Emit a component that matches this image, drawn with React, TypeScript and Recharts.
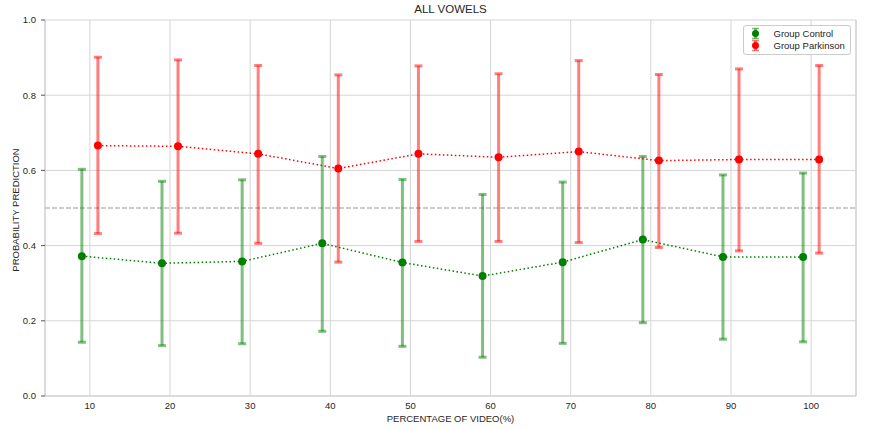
import {
  ScatterChart,
  Scatter,
  XAxis,
  YAxis,
  CartesianGrid,
  ErrorBar,
  ReferenceLine,
} from 'recharts'

const FONT = '"Liberation Sans", Arial, sans-serif'
const TEXT = '#262626'

// percentage of video (%), points are nudged -1 / +1 around each tick
const percentages = [10, 20, 30, 40, 50, 60, 70, 80, 90, 100]

const controlMean = [0.372, 0.353, 0.358, 0.406, 0.355, 0.319, 0.356, 0.416, 0.37, 0.37]
const controlUpper = [0.603, 0.571, 0.575, 0.637, 0.576, 0.536, 0.569, 0.637, 0.588, 0.593]
const controlLower = [0.143, 0.134, 0.139, 0.172, 0.132, 0.103, 0.14, 0.195, 0.151, 0.144]

const parkinsonMean = [0.666, 0.664, 0.644, 0.605, 0.644, 0.635, 0.65, 0.626, 0.629, 0.629]
const parkinsonUpper = [0.901, 0.894, 0.879, 0.854, 0.878, 0.857, 0.892, 0.855, 0.87, 0.879]
const parkinsonLower = [0.432, 0.433, 0.406, 0.356, 0.411, 0.411, 0.408, 0.395, 0.386, 0.38]

const yTicks = [0, 0.2, 0.4, 0.6, 0.8, 1.0]

const build = (mean: number[], lo: number[], hi: number[], shift: number) =>
  percentages.map((p, i) => ({
    x: p + shift,
    y: mean[i],
    err: [mean[i] - lo[i], hi[i] - mean[i]],
  }))

const controlData = build(controlMean, controlLower, controlUpper, -1)
const parkinsonData = build(parkinsonMean, parkinsonLower, parkinsonUpper, 1)

const dot = (color: string) => (props: any) => (
  <circle cx={props.cx} cy={props.cy} r={4} fill={color} />
)

const tickStyle = { fontSize: 9.5, fill: TEXT, fontFamily: FONT }

function YLabel({ viewBox }: any) {
  const cy = viewBox.y + viewBox.height / 2 + 2
  return (
    <text
      x={15}
      y={cy}
      transform={`rotate(-90 15 ${cy})`}
      textAnchor="middle"
      dominantBaseline="central"
      fontSize={9.5}
      fill={TEXT}
      fontFamily={FONT}
    >
      PROBABILITY PREDICTION
    </text>
  )
}

function XLabel({ viewBox }: any) {
  return (
    <text
      x={viewBox.x + viewBox.width / 2}
      y={418.5}
      textAnchor="middle"
      dominantBaseline="central"
      fontSize={9.5}
      fill={TEXT}
      fontFamily={FONT}
    >
      PERCENTAGE OF VIDEO(%)
    </text>
  )
}

function LegendBox() {
  const items = [
    { label: 'Group Control', bar: 'rgba(0,128,0,0.5)', dot: '#008000', y: 8.5 },
    { label: 'Group Parkinson', bar: 'rgba(255,0,0,0.5)', dot: '#ff0000', y: 20.5 },
  ]
  return (
    <svg
      width={108}
      height={30}
      style={{ position: 'absolute', left: 742.5, top: 24.5, overflow: 'visible' }}
    >
      <rect x={0.5} y={0.5} width={107} height={29} rx={2.5} fill="rgba(255,255,255,0.8)" stroke="#cccccc" />
      {items.map((it) => (
        <g key={it.label}>
          <line x1={12.5} x2={12.5} y1={it.y - 5} y2={it.y + 5} stroke={it.bar} strokeWidth={3} />
          <line x1={9} x2={16} y1={it.y - 5} y2={it.y - 5} stroke={it.bar} strokeWidth={1.5} />
          <line x1={9} x2={16} y1={it.y + 5} y2={it.y + 5} stroke={it.bar} strokeWidth={1.5} />
          <circle cx={12.5} cy={it.y} r={3.5} fill={it.dot} />
          <text x={30.5} y={it.y} dominantBaseline="central" fontSize={9.5} fill={TEXT} fontFamily={FONT}>
            {it.label}
          </text>
        </g>
      ))}
    </svg>
  )
}

export default function App() {
  return (
    <div
      style={{
        position: 'absolute',
        left: 0,
        top: 0,
        width: 875,
        height: 429,
        background: '#fff',
        fontFamily: FONT,
      }}
    >
      <div
        style={{
          position: 'absolute',
          left: 45,
          width: 811,
          top: 4,
          textAlign: 'center',
          fontSize: 11.5,
          lineHeight: 1,
          color: TEXT,
        }}
      >
        ALL VOWELS
      </div>
      <ScatterChart width={875} height={429} margin={{ top: 20, right: 0, bottom: 0, left: 0 }}>
        <CartesianGrid stroke="#d5d5d5" strokeWidth={1} />
        <XAxis
          type="number"
          dataKey="x"
          domain={[4.4, 105.6]}
          ticks={percentages}
          allowDataOverflow
          height={33}
          tickLine={false}
          tickSize={3}
          tickMargin={3}
          axisLine={{ stroke: '#cccccc' }}
          tick={tickStyle}
          label={<XLabel />}
        />
        <YAxis
          type="number"
          dataKey="y"
          domain={[0, 1]}
          ticks={yTicks}
          width={45}
          tickSize={4}
          tickMargin={5}
          tickLine={{ stroke: '#555' }}
          axisLine={{ stroke: '#cccccc' }}
          tick={tickStyle}
          tickFormatter={(v: number) => v.toFixed(1)}
          label={<YLabel />}
        />
        <YAxis
          yAxisId="right"
          orientation="right"
          type="number"
          domain={[0, 1]}
          ticks={yTicks}
          width={19}
          tickSize={3}
          tickMargin={3}
          tickLine={{ stroke: '#555' }}
          axisLine={{ stroke: '#cccccc' }}
          tick={tickStyle}
          tickFormatter={(v: number) => v.toFixed(1)}
        />
        <ReferenceLine y={0.5} stroke="#999999" strokeDasharray="5 2" strokeWidth={1.2} />
        <Scatter
          name="Group Control"
          data={controlData}
          line={{ stroke: '#008000', strokeWidth: 1.5, strokeDasharray: '1.5 2.5' }}
          lineType="joint"
          shape={dot('#008000')}
          isAnimationActive={false}
        >
          <ErrorBar dataKey="err" direction="y" width={4} strokeWidth={3} stroke="rgba(0,128,0,0.5)" />
        </Scatter>
        <Scatter
          name="Group Parkinson"
          data={parkinsonData}
          line={{ stroke: '#ff0000', strokeWidth: 1.5, strokeDasharray: '1.5 2.5' }}
          lineType="joint"
          shape={dot('#ff0000')}
          isAnimationActive={false}
        >
          <ErrorBar dataKey="err" direction="y" width={4} strokeWidth={3} stroke="rgba(255,0,0,0.5)" />
        </Scatter>
      </ScatterChart>
      <LegendBox />
    </div>
  )
}
